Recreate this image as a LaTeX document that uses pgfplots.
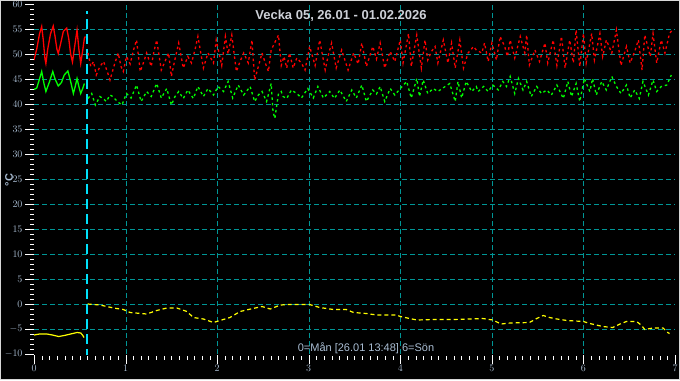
\documentclass[border=0pt]{standalone}
\usepackage{fontspec}
\setmainfont{Liberation Sans}
\usepackage{pgfplots}
\pgfplotsset{compat=1.18}
\definecolor{gridc}{RGB}{0,150,150}
\definecolor{nowc}{RGB}{0,225,250}
\definecolor{lab}{RGB}{170,190,212}
\definecolor{titc}{RGB}{205,208,215}
\definecolor{framec}{RGB}{215,215,215}
\definecolor{tickc}{RGB}{255,255,255}
\definecolor{grn}{RGB}{0,255,0}
\definecolor{ylw}{RGB}{255,255,0}
\begin{document}
\begin{tikzpicture}[x=1bp,y=1bp]
\fill[black] (-34,-26) rectangle (646,354);
\useasboundingbox (-34,-26) rectangle (646,354);
% grid (pixel aligned)
\foreach \gk in {1,...,6}{
  \pgfmathsetmacro{\gx}{round(91.5714*\gk)+0.5}
  \draw[gridc, dash pattern=on 5bp off 3bp, line width=1bp] (\gx,0) -- (\gx,350);}
\foreach \gm in {1,...,13}{
  \pgfmathsetmacro{\gy}{25*\gm-0.5}
  \draw[gridc, dash pattern=on 5bp off 3bp, line width=1bp] (0,\gy) -- (641,\gy);}
\begin{axis}[at={(0,0)}, anchor=south west, scale only axis,
  width=641bp, height=350bp,
  xmin=0, xmax=7, ymin=-10, ymax=60,
  axis line style={draw=none},
  xtick={0,...,7}, ytick={-10,-5,...,60},
  tick align=outside, tick pos=left,
  major tick length=8bp,
  tick style={draw=none},
  ticklabel style={font=\fontsize{10bp}{12bp}\selectfont, text=lab},
  clip=true,
]
% current time marker
\addplot[nowc, line width=2bp, dash pattern=on 10bp off 5bp] coordinates {(0.5788,-11) (0.5788,58.6)};
% red - before
\addplot[red, line width=1.3bp] coordinates {
(0,48.8)(0.03,51)(0.06,54)(0.084,55.5)(0.1,53)(0.12,49)(0.13,48.1)(0.15,51)(0.18,54)(0.21,55.6)
(0.23,53.5)(0.25,51)(0.265,50.1)(0.29,52)(0.32,54.5)(0.357,55.2)(0.38,53)(0.40,50)(0.42,48.4)
(0.44,51)(0.47,54.8)(0.49,51)(0.51,48.1)(0.53,50.5)(0.55,53.1)(0.56,53.5)};
% red - after
\addplot[red, line width=1.3bp, dash pattern=on 2.5bp off 3bp] coordinates {
(0.59,50.2)(0.62,47.5)(0.65,48.5)(0.68,45.8)(0.72,47.5)(0.76,48.5)(0.80,46.5)(0.83,44.8)(0.88,48)(0.92,50.2)
(0.95,47.5)(0.975,46.5)(1.01,49.5)(1.05,48)(1.09,51)(1.12,52.8)(1.16,46.5)(1.20,48.5)(1.23,50.2)(1.28,47.5)
(1.31,50.5)(1.34,52.8)(1.39,46.8)(1.43,48.5)(1.47,50.2)(1.50,45.5)(1.54,49)(1.58,52.2)(1.63,47.2)(1.68,49.5)
(1.72,48.2)(1.76,51)(1.79,53.5)(1.85,47.2)(1.90,50.2)(1.96,48.2)(1.99,52.8)(2.05,47.7)(2.09,53.5)(2.12,50)
(2.16,53.8)(2.21,46.5)(2.25,48.5)(2.29,50.2)(2.34,48.2)(2.38,52.8)(2.41,44.8)(2.45,47.5)(2.49,50.2)(2.53,48)
(2.56,46.5)(2.59,50.8)(2.67,53.8)(2.70,47.7)(2.73,49.5)(2.76,47.2)(2.79,50.2)(2.83,47.2)(2.87,49.2)(2.92,48.2)
(2.96,46.8)(3.01,51.5)(3.07,47.7)(3.12,52.8)(3.18,46.8)(3.21,49.5)(3.25,52.2)(3.30,47.2)(3.36,50.8)(3.43,46.8)
(3.49,50.2)(3.54,48)(3.58,52.2)(3.63,47.5)(3.70,51.5)(3.74,49)(3.78,52.2)(3.83,47.2)(3.89,50.5)(3.94,48.5)
(4.00,52.8)(4.03,48.2)(4.09,54.1)(4.12,47.5)(4.18,53.8)(4.23,47.2)(4.27,52.8)(4.30,48.8)(4.34,50.5)(4.38,51.5)
(4.41,48.2)(4.47,52.8)(4.52,48.2)(4.56,52.2)(4.60,47.2)(4.65,52.8)(4.69,47.2)(4.74,50.2)(4.80,51.5)(4.83,50.8)
(4.89,50.2)(4.92,52.2)(4.96,48.5)(5.00,52.2)(5.05,48.8)(5.09,53.5)(5.14,51.5)(5.17,49.5)(5.20,52.8)(5.25,49.2)
(5.31,53.5)(5.36,50.2)(5.38,53.8)(5.41,47.8)(5.47,50.8)(5.52,48.5)(5.58,52.2)(5.61,48.2)(5.67,52.8)(5.71,47.7)
(5.76,53.5)(5.80,47.2)(5.85,52.8)(5.89,48.2)(5.92,54.8)(5.96,47.5)(6.00,54.1)(6.03,48.2)(6.09,54.1)(6.12,48.8)
(6.18,54.1)(6.21,49.5)(6.25,52.8)(6.31,50.2)(6.36,54.8)(6.41,47.7)(6.47,51.5)(6.51,48.2)(6.56,50.5)(6.60,52.8)
(6.64,46.8)(6.67,53.8)(6.73,49.5)(6.76,54.1)(6.80,48.2)(6.85,52.8)(6.89,50.2)(6.94,54.1)(6.97,54.8)};
% green - before
\addplot[grn, line width=1.3bp] coordinates {
(0,42.9)(0.03,43.2)(0.06,45)(0.084,46.5)(0.11,44)(0.13,42.5)(0.17,44.5)(0.205,46.5)(0.23,45)(0.265,43.6)
(0.3,44.3)(0.33,45.8)(0.37,46.6)(0.40,44.5)(0.43,42.1)(0.45,43.5)(0.47,45.1)(0.49,43.5)(0.51,42.1)(0.53,43)(0.55,44.1)};
% green - after
\addplot[grn, line width=1.3bp, dash pattern=on 2.5bp off 3bp] coordinates {
(0.59,41.1)(0.63,42.1)(0.67,39.8)(0.72,41.5)(0.76,41)(0.79,40.5)(0.83,41.8)(0.86,41.5)(0.91,40.5)(0.96,39.8)
(1.01,42.1)(1.06,41.2)(1.12,43.8)(1.17,40.5)(1.23,42.5)(1.28,41.5)(1.34,44.1)(1.39,41.2)(1.45,43.1)(1.50,39.8)
(1.54,41.5)(1.58,42.5)(1.63,41.1)(1.68,42.8)(1.74,41.1)(1.79,43.5)(1.85,41.5)(1.90,43.1)(1.96,41.8)(2.01,43.5)
(2.07,42.5)(2.12,44.5)(2.17,41.2)(2.23,43.8)(2.29,41.8)(2.36,43.5)(2.41,40.5)(2.45,41.8)(2.49,42.5)(2.54,40.5)
(2.59,44.1)(2.61,38.5)(2.63,37.1)(2.67,42.1)(2.70,42.5)(2.72,41.5)(2.76,41.1)(2.81,42.8)(2.87,42.1)(2.92,41.2)
(2.99,43.1)(3.05,41.2)(3.10,43.5)(3.16,41.2)(3.23,42.5)(3.28,41.1)(3.34,42.8)(3.41,40.5)(3.47,42.8)(3.52,41.2)
(3.58,43.8)(3.63,40.5)(3.70,42.8)(3.74,42)(3.78,43.5)(3.83,40.5)(3.89,43.1)(3.94,41.8)(4.00,43.1)(4.07,44.5)
(4.12,41.2)(4.18,45.1)(4.21,41.5)(4.25,44.8)(4.30,42.1)(4.36,43.1)(4.41,42.5)(4.45,43)(4.49,43.5)(4.54,44.1)
(4.60,40.5)(4.63,44.5)(4.67,41.2)(4.72,44.5)(4.78,42.5)(4.83,43.5)(4.85,42.5)(4.91,43.5)(4.96,42.5)(5.01,43.8)
(5.07,42.8)(5.12,44.5)(5.16,43.5)(5.20,45.5)(5.25,42.1)(5.29,45.1)(5.34,42.8)(5.38,44.5)(5.43,41.5)(5.49,43.5)
(5.54,42.1)(5.60,42.8)(5.65,41.8)(5.71,43.8)(5.78,41.1)(5.83,44.5)(5.87,41.5)(5.92,44.1)(5.96,40.5)(6.01,45.1)
(6.07,42.5)(6.10,45.1)(6.14,41.8)(6.20,44.5)(6.25,42.8)(6.31,45.5)(6.36,43.5)(6.41,42.1)(6.47,43.8)(6.51,41.2)
(6.56,42.8)(6.61,41.1)(6.65,44.5)(6.71,41.8)(6.76,44.8)(6.80,42.5)(6.85,43.5)(6.91,43.8)(6.96,45.8)};
% yellow - before
\addplot[ylw, line width=1.2bp] coordinates {
(0,-6.2)(0.06,-6.0)(0.14,-6.0)(0.2,-6.2)(0.27,-6.5)(0.33,-6.3)(0.4,-6.0)(0.47,-5.7)(0.51,-5.8)(0.53,-6.2)(0.546,-6.7)};
% yellow - after
\addplot[ylw, line width=1.2bp, dash pattern=on 4bp off 3bp] coordinates {
(0.585,0)(0.72,-0.2)(0.87,-0.8)(0.975,-1.1)(1.05,-1.7)(1.23,-2.0)(1.34,-1.3)(1.45,-0.8)(1.56,-0.8)(1.67,-1.5)
(1.74,-2.7)(1.85,-3.0)(1.96,-3.7)(2.03,-3.3)(2.14,-2.7)(2.25,-1.5)(2.39,-0.9)(2.49,-0.5)(2.58,-1.0)(2.69,-0.2)
(2.79,-0.1)(3.01,-0.1)(3.12,-0.7)(3.27,-1.1)(3.41,-1.1)(3.49,-1.7)(3.63,-1.9)(3.74,-2.2)(3.96,-2.2)(4.0,-2.5)
(4.18,-3.2)(4.36,-3.1)(4.58,-3.1)(4.9,-2.9)(5.01,-3.2)(5.1,-4.0)(5.2,-3.8)(5.41,-3.7)(5.49,-2.9)(5.56,-2.3)
(5.63,-2.7)(5.71,-3.0)(5.82,-3.3)(6.0,-3.5)(6.07,-3.9)(6.21,-4.5)(6.32,-4.7)(6.40,-4.0)(6.47,-3.5)(6.58,-3.5)
(6.63,-4.2)(6.67,-5.1)(6.76,-4.8)(6.87,-4.8)(6.92,-5.7)(6.94,-5.9)};
\end{axis}
% ticks as filled rectangles, drawn on top
\foreach \tv in {0,...,70}{
  \fill[tickc] (-4,5*\tv-1) rectangle (0,5*\tv);}
\foreach \tv in {0,5,...,70}{
  \fill[tickc] (-9,5*\tv-1) rectangle (0,5*\tv);}
\foreach \ti in {0,...,84}{
  \pgfmathsetmacro{\tx}{round(91.5714*\ti/12)}
  \fill[tickc] (\tx,-2) rectangle (\tx+1,-6);}
\foreach \ti in {0,...,7}{
  \pgfmathsetmacro{\tx}{round(91.5714*\ti)}
  \fill[tickc] (\tx,-1) rectangle (\tx+1,-10);}
\draw[framec, line width=1bp] (-33.5,-25.5) rectangle (645.5,353.5);
\node[text=titc, font=\bfseries\fontsize{13bp}{15bp}\selectfont] at (307,338) {Vecka 05, 26.01 - 01.02.2026};
\node[text=lab, font=\fontsize{11bp}{13bp}\selectfont] at (332,6) {0=Mån [26.01 13:48] 6=Sön};
\node[text=lab, rotate=90, font=\bfseries\fontsize{11bp}{12bp}\selectfont] at (-25,174) {°C};
\end{tikzpicture}
\end{document}
